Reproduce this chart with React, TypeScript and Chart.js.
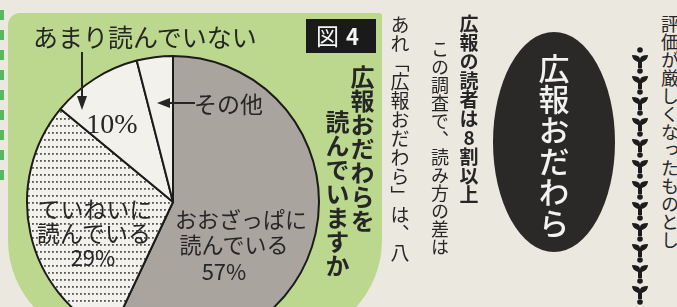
import React, { useEffect, useRef } from 'react';
import { Chart, registerables } from 'chart.js';

Chart.register(...registerables);

// ---- data ----
const categories = ['おおざっぱに読んでいる', 'ていねいに読んでいる', 'あまり読んでいない', 'その他'];
const values = [57, 29, 10, 4];
const title = '図4';
const questionLines = ['広報おだわらを', '読んでいますか'];

const PAPER = '#ebe8e0';
const GREEN = '#bcd88e';
const GRAY = '#a9a49d';
const WHITE = '#f2f1ec';
const INK = '#262626';
const JP = '"Noto Sans CJK JP", "Noto Sans", sans-serif';

function makeDots(): CanvasPattern | string {
  const c = document.createElement('canvas');
  c.width = 4;
  c.height = 7;
  const g = c.getContext('2d');
  if (!g) return WHITE;
  g.fillStyle = WHITE;
  g.fillRect(0, 0, 4, 7);
  g.fillStyle = '#555555';
  g.fillRect(1, 3, 1.8, 1.8);
  return g.createPattern(c, 'repeat') || WHITE;
}

const abs = (s: React.CSSProperties): React.CSSProperties => ({ position: 'absolute', ...s });

function Vert({ text, cx, top, size, bold, weight, color, upright, spacing }: any) {
  return (
    <div
      style={abs({
        left: cx - size / 2,
        top,
        fontFamily: JP,
        fontSize: size,
        lineHeight: 1,
        fontWeight: weight || (bold ? 700 : 400),
        color: color || INK,
        writingMode: 'vertical-rl',
        textOrientation: upright ? 'upright' : 'mixed',
        letterSpacing: spacing || 0,
        whiteSpace: 'nowrap',
      })}
    >
      {text}
    </div>
  );
}

function Label({ text, cx, cy, size, family, weight }: any) {
  return (
    <div
      style={abs({
        left: cx,
        top: cy,
        transform: 'translate(-50%, -50%)',
        fontFamily: family || JP,
        fontSize: size,
        lineHeight: 1,
        fontWeight: weight || 400,
        color: INK,
        whiteSpace: 'nowrap',
      })}
    >
      {text}
    </div>
  );
}

export default function App() {
  const ref = useRef<HTMLCanvasElement | null>(null);

  useEffect(() => {
    if (!ref.current) return;
    const dots = makeDots();
    const chart = new Chart(ref.current, {
      type: 'pie',
      data: {
        labels: categories,
        datasets: [
          {
            data: values,
            backgroundColor: [GRAY, dots as any, WHITE, WHITE],
            borderColor: '#1b1b1b',
            borderWidth: 2,
            radius: 146,
          } as any,
        ],
      },
      options: {
        animation: false,
        responsive: false,
        events: [],
        layout: { padding: 0 },
        plugins: { legend: { display: false }, tooltip: { enabled: false } },
      },
    });
    return () => chart.destroy();
  }, []);

  const pct = (i: number) => `${values[i]}%`;
  const ornaments = Array.from({ length: 13 }, (_, i) => 50 + i * 21);

  return (
    <div style={{ position: 'fixed', left: 0, top: 0, width: 677, height: 307, overflow: 'hidden', background: PAPER }}>
      {/* left green dashes */}
      <div
        style={abs({
          left: 0,
          top: 10,
          width: 4,
          height: 180,
          background: 'repeating-linear-gradient(to bottom, #55b95e 0 10px, transparent 10px 20px)',
        })}
      />
      {/* green panel */}
      <div
        style={abs({
          left: 8,
          top: 13,
          width: 374,
          height: 327,
          borderRadius: '12px 3px 100px 100px',
          background: GREEN,
        })}
      />
      {/* pie */}
      <canvas ref={ref} width={300} height={300} style={abs({ left: 23, top: 52, width: 300, height: 300 })} />

      {/* labels on the pie */}
      <div style={abs({ left: 33, top: 24, fontFamily: JP, fontSize: 25, lineHeight: 1, color: INK, whiteSpace: 'nowrap' })}>
        {categories[2]}
      </div>
      <Label text={pct(2)} cx={112} cy={124} size={28} family='"Liberation Serif", "DejaVu Serif", serif' />
      <div style={abs({ left: 194, top: 92, fontFamily: JP, fontSize: 23, lineHeight: 1, color: INK, whiteSpace: 'nowrap' })}>
        {categories[3]}
      </div>
      <Label text="ていねいに" cx={95} cy={208} size={23} />
      <Label text="読んでいる" cx={94} cy={232} size={23} />
      <Label text={pct(1)} cx={93} cy={256} size={22} />
      <Label text="おおざっぱに" cx={241} cy={218} size={22} />
      <Label text="読んでいる" cx={234} cy={243} size={22} />
      <Label text={pct(0)} cx={224} cy={270} size={22} />

      {/* badge */}
      <div style={abs({ left: 306, top: 19, width: 70, height: 34, background: '#1a1a1a' })} />
      <div style={abs({ left: 316, top: 24, fontFamily: JP, fontSize: 23, lineHeight: 1, color: '#f4f4f4', whiteSpace: 'nowrap' })}>
        {title.slice(0, 1)}
        <span style={{ marginLeft: 7, fontWeight: 700, fontSize: 22 }}>{title.slice(1)}</span>
      </div>

      {/* question, vertical */}
      <Vert text={questionLines[0]} cx={362} top={65} size={24} bold />
      <Vert text={questionLines[1]} cx={337} top={110} size={24} bold />

      {/* newspaper columns */}
      <Vert text="あれ「広報おだわら」は、八" cx={400} top={15} size={19} />
      <Vert text="この調査で、読み方の差は" cx={440} top={40} size={18} />
      <Vert text="広報の読者は8割以上" cx={469} top={14} size={19} bold upright />

      {/* oval */}
      <div style={abs({ left: 493, top: 32, width: 122, height: 220, borderRadius: '50%', background: '#2b2928' })} />
      <Vert text="広報おだわら" cx={554} top={53} size={31} weight={500} color="#f2f2f2" />

      <Vert text="評価が厳しくなったものとし" cx={670} top={15} size={18} />

      {/* arrows and ornaments */}
      <svg width={677} height={307} style={abs({ left: 0, top: 0 })}>
        <line x1={82} y1={52} x2={82} y2={104} stroke={INK} strokeWidth={2} />
        <path d="M77,96 L82,110 L87,96 Z" fill={INK} />
        <line x1={162} y1={103} x2={195} y2={103} stroke={INK} strokeWidth={2} />
        <path d="M170,98 L157,103 L170,108 Z" fill={INK} />
        {ornaments.map((y) => (
          <g key={y}>
            <circle cx={640} cy={y} r={2.8} fill="#1c1c1c" />
            <path
              d={`M632,${y + 5} Q640,${y + 5} 640,${y + 9} Q640,${y + 5} 648,${y + 5} Q648,${y + 10} 642,${y + 12} L642,${y + 18} L638,${y + 18} L638,${y + 12} Q632,${y + 10} 632,${y + 5} Z`}
              fill="#1c1c1c"
            />
          </g>
        ))}
      </svg>
    </div>
  );
}
